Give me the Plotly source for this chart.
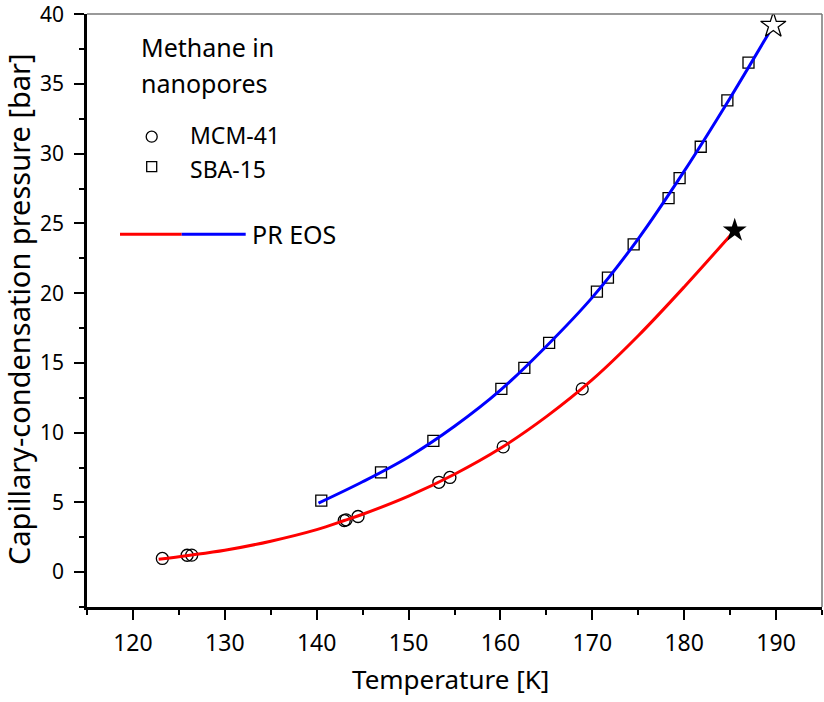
import plotly.graph_objects as go

# ---- data ----
mcm_T = [123.2, 125.9, 126.4, 143.0, 143.2, 144.5, 153.3, 154.5, 160.3, 168.9]
mcm_P = [0.98, 1.21, 1.22, 3.70, 3.75, 3.99, 6.44, 6.79, 8.98, 13.14]

sba_T = [140.5, 147.0, 152.7, 160.1, 162.6, 165.3, 170.5, 171.7, 174.5, 178.3, 179.5, 181.8, 184.7, 187.0]
sba_P = [5.13, 7.15, 9.41, 13.14, 14.64, 16.44, 20.12, 21.12, 23.50, 26.82, 28.25, 30.50, 33.83, 36.54]

pr_mcm_T = [122.8, 126.0, 130.0, 135.0, 140.0, 143.0, 145.0, 150.0, 155.0, 160.0, 165.0, 170.0, 175.0, 180.0, 185.5]
pr_mcm_P = [0.93, 1.20, 1.57, 2.22, 3.05, 3.70, 4.15, 5.45, 7.02, 8.88, 11.15, 13.80, 16.95, 20.45, 24.50]

pr_sba_T = [140.2, 145.0, 150.0, 155.0, 160.0, 165.0, 170.0, 175.0, 180.0, 185.0, 189.7]
pr_sba_P = [4.95, 6.48, 8.26, 10.46, 13.05, 16.20, 19.70, 23.90, 28.75, 34.00, 39.20]

crit_mcm_T = [185.5]
crit_mcm_P = [24.5]
crit_sba_T = [189.7]
crit_sba_P = [39.2]

x_ticks = [120, 130, 140, 150, 160, 170, 180, 190]
y_ticks = [0, 5, 10, 15, 20, 25, 30, 35, 40]

FONT = "Noto Sans"
W, H = 824, 702
L, R, T, B = 87, 2, 14, 95
PW, PH = W - L - R, H - T - B


def px(x):
    return (x - L) / PW


def py(y):
    return (H - B - y) / PH


fig = go.Figure()

fig.add_trace(go.Scatter(x=mcm_T, y=mcm_P, mode="markers", showlegend=False,
                         marker=dict(symbol="circle-open", size=12, color="black", line=dict(width=1.3))))
fig.add_trace(go.Scatter(x=sba_T, y=sba_P, mode="markers", showlegend=False,
                         marker=dict(symbol="square-open", size=11, color="black", line=dict(width=1.3))))
fig.add_trace(go.Scatter(x=pr_mcm_T, y=pr_mcm_P, mode="lines", showlegend=False,
                         line=dict(color="#ff0000", width=3, shape="spline", smoothing=1.0)))
fig.add_trace(go.Scatter(x=pr_sba_T, y=pr_sba_P, mode="lines", showlegend=False,
                         line=dict(color="#0000ff", width=3, shape="spline", smoothing=1.0)))
fig.add_trace(go.Scatter(x=crit_mcm_T, y=crit_mcm_P, mode="markers", showlegend=False,
                         marker=dict(symbol="star", size=18, color="black", line=dict(width=0))))
fig.add_trace(go.Scatter(x=crit_sba_T, y=crit_sba_P, mode="markers", showlegend=False,
                         marker=dict(symbol="star", size=19, color="white", line=dict(width=1.3, color="black"))))

shapes = [
    # grey top / right frame
    dict(type="line", xref="paper", yref="paper", x0=0, x1=1, y0=1, y1=1,
         line=dict(color="#777777", width=1.5)),
    dict(type="line", xref="paper", yref="paper", x0=1, x1=1, y0=0, y1=1,
         line=dict(color="#777777", width=1.5)),
    # legend symbols
    dict(type="circle", xref="paper", yref="paper",
         x0=px(151.7 - 5.5), x1=px(151.7 + 5.5), y0=py(136.7 + 5.5), y1=py(136.7 - 5.5),
         line=dict(color="black", width=1.3)),
    dict(type="rect", xref="paper", yref="paper",
         x0=px(151.7 - 5), x1=px(151.7 + 5), y0=py(166.7 + 5), y1=py(166.7 - 5),
         line=dict(color="black", width=1.3)),
    dict(type="line", xref="paper", yref="paper", x0=px(120), x1=px(181.7), y0=py(234.3), y1=py(234.3),
         line=dict(color="#ff0000", width=3)),
    dict(type="line", xref="paper", yref="paper", x0=px(181.7), x1=px(245.7), y0=py(234.3), y1=py(234.3),
         line=dict(color="#0000ff", width=3)),
]

ann_font = dict(family=FONT, size=25, color="black")
annotations = [
    dict(text="Methane in", x=px(139), y=py(47), xref="paper", yref="paper",
         xanchor="left", yanchor="middle", showarrow=False, font=ann_font),
    dict(text="nanopores", x=px(139), y=py(83), xref="paper", yref="paper",
         xanchor="left", yanchor="middle", showarrow=False, font=ann_font),
    dict(text="MCM-41", x=px(188), y=py(135.5), xref="paper", yref="paper",
         xanchor="left", yanchor="middle", showarrow=False, font=dict(family=FONT, size=23)),
    dict(text="SBA-15", x=px(188), y=py(168.5), xref="paper", yref="paper",
         xanchor="left", yanchor="middle", showarrow=False, font=dict(family=FONT, size=23)),
    dict(text="PR EOS", x=px(250), y=py(234), xref="paper", yref="paper",
         xanchor="left", yanchor="middle", showarrow=False, font=ann_font),
    # axis titles
    dict(text="Temperature [K]", x=px(450), y=py(679), xref="paper", yref="paper",
         xanchor="center", yanchor="middle", showarrow=False, font=dict(family=FONT, size=26)),
    dict(text="Capillary-condensation pressure [bar]", x=px(18), y=py(309), xref="paper", yref="paper",
         xanchor="center", yanchor="middle", showarrow=False, textangle=-90,
         font=dict(family=FONT, size=29)),
]

fig.update_layout(
    width=W, height=H,
    margin=dict(l=L, r=R, t=T, b=B, pad=0, autoexpand=False),
    paper_bgcolor="white", plot_bgcolor="white",
    font=dict(family=FONT, size=23, color="black"),
    shapes=shapes, annotations=annotations,
    showlegend=False,
)

fig.update_xaxes(
    range=[115, 195], tickvals=x_ticks, ticktext=[str(v) for v in x_ticks],
    showgrid=False, zeroline=False, showline=True, linecolor="black", linewidth=2.5,
    ticks="outside", ticklen=10, tickwidth=2.2, tickcolor="black",
    minor=dict(ticks="outside", ticklen=5, tickwidth=2, tickcolor="black", dtick=5, tick0=115, showgrid=False),
    tickfont=dict(family=FONT, size=23), ticklabelstandoff=4, automargin=False,
)
fig.update_yaxes(
    range=[-2.5, 40.02], tickvals=y_ticks, ticktext=[str(v) for v in y_ticks],
    showgrid=False, zeroline=False, showline=True, linecolor="black", linewidth=2.5,
    ticks="outside", ticklen=10, tickwidth=2.2, tickcolor="black",
    minor=dict(ticks="outside", ticklen=5, tickwidth=2, tickcolor="black", dtick=2.5, tick0=0, showgrid=False),
    tickfont=dict(family=FONT, size=21), ticklabelstandoff=6, ticklabeloverflow="allow", automargin=False,
)

fig.write_html("out.html")
